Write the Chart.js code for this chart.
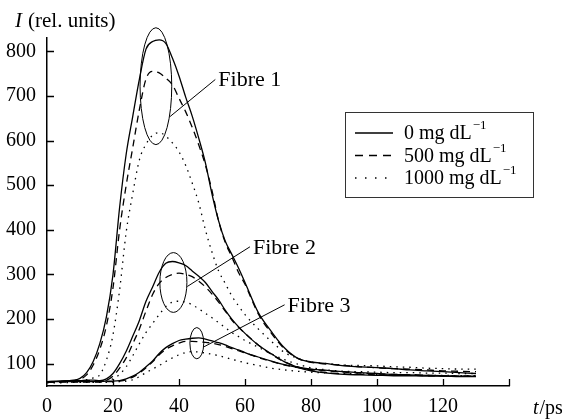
<!DOCTYPE html>
<html>
<head>
<meta charset="utf-8">
<script src="https://cdn.jsdelivr.net/npm/chart.js@4.4.1/dist/chart.umd.min.js"></script>
<style>
  body { margin: 0; background: #fff; }
  #c { display: block; }
</style>
</head>
<body>
<canvas id="c" width="568" height="419"></canvas>
<script>
// time axis (ps), shared by every curve
const times = [0, 4, 8, 10, 12, 14, 16, 18, 20, 22,
  24, 26, 28, 30, 32, 34, 36, 38, 40, 42, 44, 46, 48, 50, 52, 54, 56, 58, 60,
  64, 68, 72, 76, 80,
  85, 90, 95, 100, 105, 110, 115, 120, 125, 130];

// Fibre 1
const fibre1_0 = [60, 61, 63, 67, 80, 105, 145, 205, 300, 450,
  570, 655, 738, 805, 822, 826, 818, 785, 745, 698, 655, 605, 550, 480, 420, 375, 345, 315, 282,
  215, 172, 135, 112, 104,
  100, 95, 93, 91, 89, 86, 84, 82, 80, 78];
const fibre1_500 = [58, 60, 62, 65, 75, 97, 132, 185, 270, 400,
  500, 585, 670, 738, 755, 752, 740, 725, 695, 665, 630, 590, 545, 488, 420, 372, 340, 305, 278,
  212, 168, 133, 112, 103,
  99, 96, 93, 91, 89, 88, 86, 84, 83, 82];
const fibre1_1000 = [58, 60, 61, 62, 64, 68, 75, 108, 165, 265,
  395, 482, 557, 592, 612, 618, 610, 595, 575, 545, 505, 460, 400, 350, 308, 280, 252, 230, 210,
  178, 150, 125, 112, 104,
  100, 97, 96, 95, 93, 92, 90, 89, 88, 88];

// Fibre 2
const fibre2_0 = [60, 61, 62, 62, 63, 63, 62, 66, 78, 100,
  128, 162, 197, 240, 272, 305, 325, 329, 326, 320, 308, 296, 282, 262, 243, 220, 200, 183, 168,
  142, 122, 104, 92, 84,
  79, 76, 75, 74, 73, 73, 72, 72, 71, 71];
const fibre2_500 = [59, 60, 61, 61, 62, 62, 62, 63, 72, 90,
  113, 145, 178, 218, 255, 280, 293, 300, 303, 300, 295, 285, 272, 256, 238, 218, 198, 182, 168,
  142, 121, 104, 93, 85,
  80, 77, 76, 75, 74, 74, 73, 73, 72, 72];
const fibre2_1000 = [58, 59, 60, 60, 60, 60, 60, 62, 66, 76,
  93, 118, 145, 170, 190, 210, 228, 238, 240, 238, 232, 223, 213, 203, 192, 181, 170, 161, 152,
  137, 122, 109, 99, 91,
  86, 83, 82, 81, 80, 80, 79, 79, 78, 78];

// Fibre 3
const fibre3_0 = [60, 60, 60, 60, 60, 60, 60, 61, 61, 62,
  66, 72, 81, 93, 106, 123, 136, 145, 152, 155, 157, 158, 155, 151, 147, 142, 136, 131, 125,
  115, 106, 98, 92, 88,
  85, 82, 80, 78, 76, 75, 74, 73, 72, 72];
const fibre3_500 = [59, 59, 59, 59, 59, 59, 59, 60, 60, 61,
  64, 70, 79, 91, 104, 120, 132, 140, 146, 150, 150, 149, 148, 146, 143, 139, 134, 129, 124,
  114, 105, 97, 91, 87,
  84, 81, 79, 77, 76, 75, 74, 73, 72, 72];
const fibre3_1000 = [57, 57, 58, 58, 58, 58, 58, 58, 59, 60,
  61, 64, 71, 80, 88, 96, 105, 113, 120, 125, 127, 126, 124, 121, 118, 114, 110, 106, 102,
  96, 90, 86, 83, 81,
  79, 78, 77, 76, 75, 75, 74, 74, 73, 73];

const concLabels = ['0', '500', '1000'];
const xTicks = [0, 20, 40, 60, 80, 100, 120, 140];
const yTicks = [100, 200, 300, 400, 500, 600, 700, 800];

const dashes = [[], [7, 5], [1.5, 5]];
const serif = 'Liberation Serif';
Chart.defaults.font.family = serif;
Chart.defaults.color = '#000';

const fibres = [
  [fibre1_0, fibre1_500, fibre1_1000],
  [fibre2_0, fibre2_500, fibre2_1000],
  [fibre3_0, fibre3_500, fibre3_1000]
];

const datasets = [];
fibres.forEach(function(group, f) {
  group.forEach(function(vals, k) {
    datasets.push({
      label: 'Fibre ' + (f + 1) + ', ' + concLabels[k] + ' mg dL-1',
      data: times.map(function(t, i) { return { x: t, y: vals[i] }; }),
      borderColor: '#000',
      borderWidth: 1.3,
      borderDash: dashes[k],
      pointRadius: 0,
      cubicInterpolationMode: 'monotone',
      fill: false
    });
  });
});

// labels with ellipses: [text, centre t, centre I, radius t, radius I, line from t,I, line to t,I]
const notes = [
  ['Fibre 1', 33.0, 722, 4.8, 131, 37.3, 654, 51.0, 737],
  ['Fibre 2', 38.3, 282, 4.1, 67, 42.5, 273, 61.5, 362],
  ['Fibre 3', 45.4, 146, 2.1, 35, 47.6, 138, 72.0, 232]
];

const extras = {
  id: 'extras',
  afterDraw: function(chart) {
    const ctx = chart.ctx;
    const xs = chart.scales.x, ys = chart.scales.y;
    ctx.save();
    ctx.fillStyle = '#000';
    ctx.strokeStyle = '#000';

    // inward tick marks
    ctx.lineWidth = 1.3;
    ctx.beginPath();
    yTicks.forEach(function(v) {
      const py = Math.round(ys.getPixelForValue(v)) + 0.5;
      ctx.moveTo(xs.left, py);
      ctx.lineTo(xs.left + 7, py);
    });
    xTicks.slice(1).forEach(function(t) {
      const px = Math.round(xs.getPixelForValue(t)) + 0.5;
      ctx.moveTo(px, ys.bottom);
      ctx.lineTo(px, ys.bottom - 7);
    });
    ctx.stroke();

    // axis titles
    ctx.textBaseline = 'alphabetic';
    ctx.textAlign = 'left';
    ctx.font = 'italic 21px ' + serif;
    ctx.fillText('I', 15, 27);
    ctx.font = '21px ' + serif;
    ctx.fillText('(rel. units)', 28, 27);
    ctx.font = 'italic 20px ' + serif;
    ctx.fillText('t', 533, 414);
    let w = ctx.measureText('t').width;
    ctx.font = '20px ' + serif;
    ctx.fillText('/ps', 533 + w + 1, 414);

    // fibre notes
    ctx.lineWidth = 1;
    notes.forEach(function(n) {
      const cx = xs.getPixelForValue(n[1]);
      const cy = ys.getPixelForValue(n[2]);
      const rx = xs.getPixelForValue(n[1] + n[3]) - cx;
      const ry = cy - ys.getPixelForValue(n[2] + n[4]);
      ctx.beginPath();
      ctx.ellipse(cx, cy, rx, ry, 0, 0, Math.PI * 2);
      ctx.stroke();
      const x1 = xs.getPixelForValue(n[5]), y1 = ys.getPixelForValue(n[6]);
      const x2 = xs.getPixelForValue(n[7]), y2 = ys.getPixelForValue(n[8]);
      ctx.beginPath();
      ctx.moveTo(x1, y1);
      ctx.lineTo(x2, y2);
      ctx.stroke();
      ctx.font = '22px ' + serif;
      ctx.textBaseline = 'middle';
      ctx.fillText(n[0], x2 + 3, y2 + 1);
    });

    // legend
    ctx.lineWidth = 1;
    ctx.strokeStyle = '#333';
    ctx.strokeRect(345.5, 112.5, 188, 85);
    ctx.strokeStyle = '#000';
    concLabels.forEach(function(c, k) {
      const y = 133 + k * 22.5;
      ctx.lineWidth = 1.5;
      ctx.setLineDash(k === 0 ? [] : (k === 1 ? [8, 6] : [1.5, 8.5]));
      ctx.beginPath();
      ctx.moveTo(355, y);
      ctx.lineTo(393, y);
      ctx.stroke();
      ctx.setLineDash([]);
      ctx.font = '20px ' + serif;
      ctx.textBaseline = 'middle';
      const txt = c + ' mg dL';
      ctx.fillText(txt, 404, y + 1);
      const tw = ctx.measureText(txt).width;
      ctx.font = '13px ' + serif;
      ctx.fillText('\u22121', 404 + tw + 1, y - 7);
    });
    ctx.restore();
  }
};

new Chart(document.getElementById('c'), {
  type: 'line',
  data: { datasets: datasets },
  options: {
    responsive: false,
    animation: false,
    layout: { padding: { left: 0, right: 59, top: 38, bottom: 0 } },
    plugins: {
      legend: { display: false },
      tooltip: { enabled: false }
    },
    scales: {
      x: {
        type: 'linear',
        min: 0,
        max: 140,
        afterFit: function(s) { s.height = 33; },
        afterBuildTicks: function(s) { s.ticks = xTicks.map(function(v) { return { value: v }; }); },
        grid: { display: false, drawTicks: false },
        border: { display: true, color: '#000', width: 1.5 },
        ticks: {
          color: '#000',
          font: { family: serif, size: 20 },
          padding: 9,
          maxRotation: 0,
          autoSkip: false,
          callback: function(v) { return v === 140 ? '' : v; }
        }
      },
      y: {
        min: 50,
        max: 830,
        afterFit: function(s) { s.width = 47; },
        afterBuildTicks: function(s) { s.ticks = yTicks.map(function(v) { return { value: v }; }); },
        grid: { display: false, drawTicks: false },
        border: { display: true, color: '#000', width: 1.5 },
        ticks: {
          color: '#000',
          font: { family: serif, size: 20 },
          padding: 11
        }
      }
    }
  },
  plugins: [extras]
});
</script>
</body>
</html>
